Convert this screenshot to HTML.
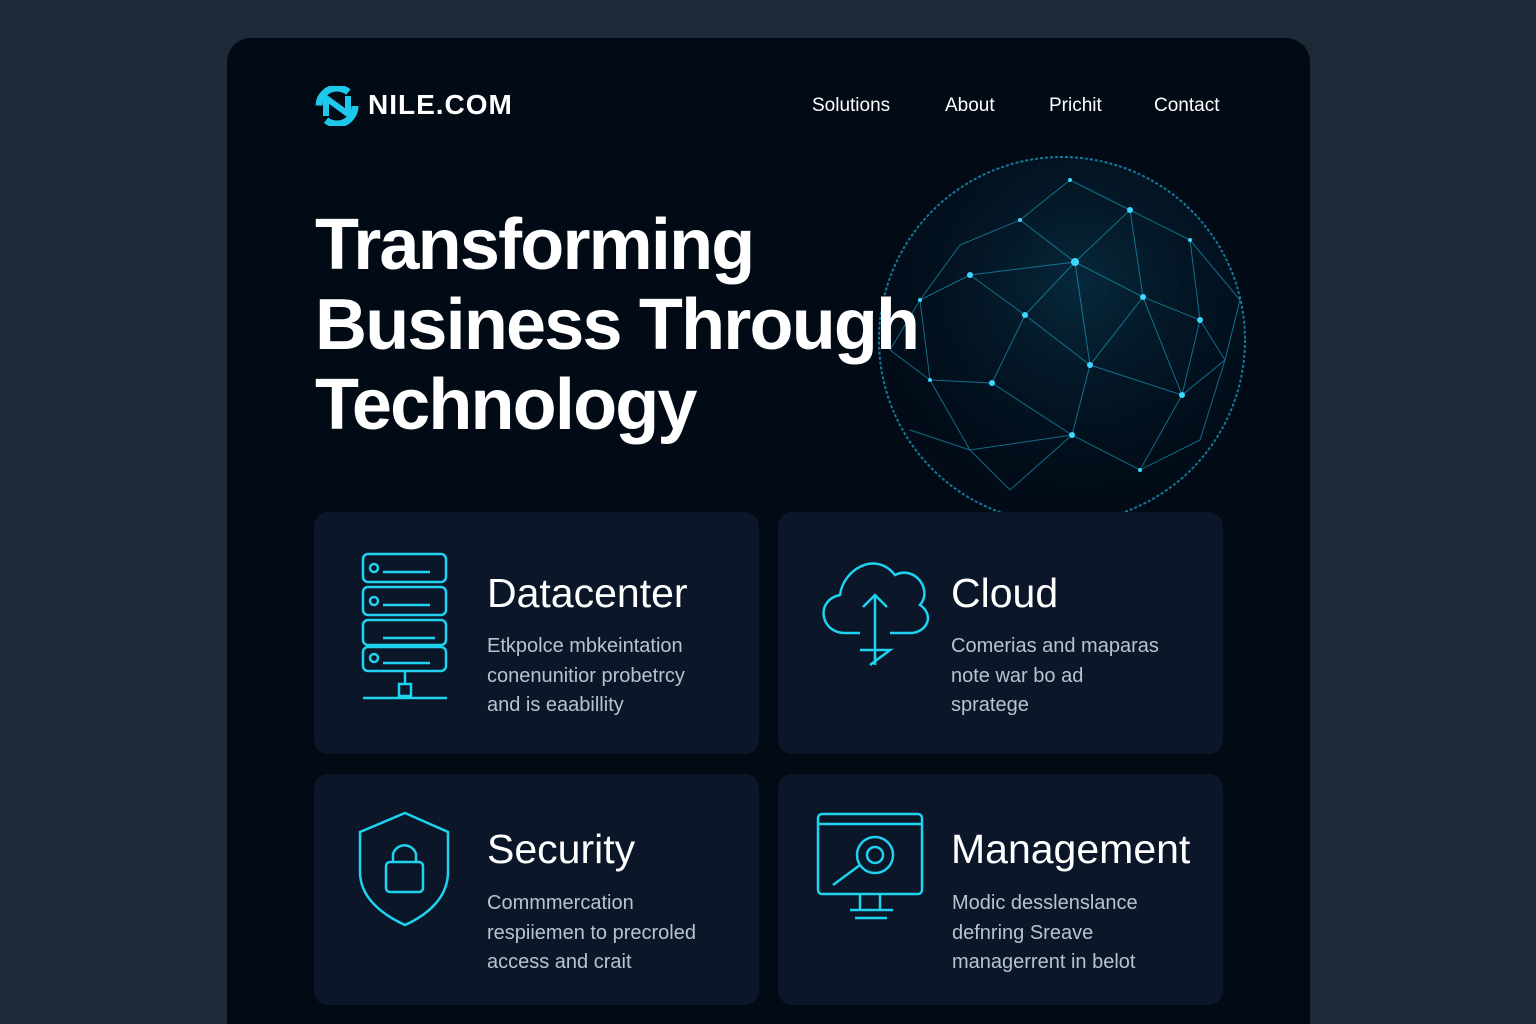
<!DOCTYPE html>
<html><head><meta charset="utf-8"><style>
html,body{margin:0;width:1536px;height:1024px;overflow:hidden}
body{background:#1e2a37;font-family:"Liberation Sans",sans-serif;position:relative}
.panel{position:absolute;left:227px;top:38px;width:1083px;height:1010px;background:#020a15;border-radius:24px;overflow:hidden}
.abs{position:absolute}
.logo{left:368px;top:89px;color:#fff;font-weight:bold;font-size:28px;letter-spacing:1px}
.nav{top:95px;color:#fff;font-size:19px}
h1{position:absolute;left:315px;top:205px;margin:0;color:#fff;font-size:72px;line-height:80px;font-weight:bold;letter-spacing:-1.8px}
.card{position:absolute;background:#0b1628;border-radius:14px}
.ct{position:absolute;color:#fff;font-size:41px}
.cd{position:absolute;color:#b9c3cf;font-size:20px;line-height:29.5px}
</style></head><body>
<div class="panel"></div>
<svg class="abs" style="left:314px;top:86px" width="46" height="40" viewBox="0 0 46 40"><circle cx="23" cy="20" r="18" fill="none" stroke="#1ec8ea" stroke-width="7" stroke-dasharray="40 17"/><path d="M12 30 L12 12 L34 28 L34 10" fill="none" stroke="#1ec8ea" stroke-width="6"/></svg>
<div class="abs logo">NILE.COM</div>
<div class="abs nav" style="left:812px">Solutions</div>
<div class="abs nav" style="left:945px">About</div>
<div class="abs nav" style="left:1049px">Prichit</div>
<div class="abs nav" style="left:1154px">Contact</div>
<svg class="abs" style="left:860px;top:150px" width="400" height="362" viewBox="0 0 400 362">
<defs><radialGradient id="g" cx="55%" cy="35%" r="60%"><stop offset="0" stop-color="#0c4660" stop-opacity=".75"/><stop offset="1" stop-color="#031526" stop-opacity=".2"/></radialGradient></defs>
<circle cx="202" cy="190" r="183" fill="url(#g)" stroke="#1aa9d0" stroke-width="2" stroke-dasharray="3 2" opacity=".7"/>
<g stroke="#22b8e0" stroke-width="1" opacity=".55" fill="none">
<path d="M215 112 L160 70 L100 95 L60 150 L110 125 L215 112 L283 147 L270 60 L215 112 L165 165 L110 125 L60 150 L70 230 L132 233 L165 165 L230 215 L283 147 L340 170 L322 245 L230 215 L212 285 L132 233 L70 230 L110 300 L212 285 L280 320 L322 245 L365 210 L340 170 L330 90 L270 60 M165 165 L132 233 M230 215 L322 245 M212 285 L150 340 L110 300 M280 320 L340 290 L365 210 M100 95 L60 150 M160 70 L210 30 L270 60 M330 90 L380 150 L365 210 M30 200 L60 150 M30 200 L70 230 M50 280 L110 300 M215 112 L230 215 M283 147 L322 245"/>
</g>
<g fill="#3fd6ff"><circle cx="215" cy="112" r="4"/><circle cx="283" cy="147" r="3"/><circle cx="165" cy="165" r="3"/><circle cx="230" cy="215" r="3"/><circle cx="132" cy="233" r="3"/><circle cx="322" cy="245" r="3"/><circle cx="212" cy="285" r="3"/><circle cx="110" cy="125" r="3"/><circle cx="340" cy="170" r="3"/><circle cx="270" cy="60" r="3"/><circle cx="60" cy="150" r="2"/><circle cx="70" cy="230" r="2"/><circle cx="280" cy="320" r="2"/><circle cx="160" cy="70" r="2"/><circle cx="330" cy="90" r="2"/><circle cx="210" cy="30" r="2"/></g>
</svg>
<h1>Transforming<br>Business Through<br>Technology</h1>
<div class="card" style="left:314px;top:512px;width:445px;height:242px"></div>
<div class="card" style="left:778px;top:512px;width:445px;height:242px"></div>
<div class="card" style="left:314px;top:774px;width:445px;height:231px"></div>
<div class="card" style="left:778px;top:774px;width:445px;height:231px"></div>
<svg class="abs" style="left:355px;top:550px" width="100" height="155" fill="none" stroke="#1ed2f0" stroke-width="2.5">
<rect x="8" y="4" width="83" height="28" rx="5"/><rect x="8" y="37" width="83" height="28" rx="5"/><rect x="8" y="70" width="83" height="25" rx="5"/><rect x="8" y="97" width="83" height="24" rx="5"/>
<circle cx="19" cy="18" r="4"/><circle cx="19" cy="51" r="4"/><circle cx="19" cy="108" r="4"/><path d="M28 22H75M28 55H75M28 88H80M28 113H75M50 121V135M8 148H92"/><rect x="44" y="134" width="12" height="12"/></svg>
<svg class="abs" style="left:815px;top:555px" width="120" height="115" fill="none" stroke="#1ed2f0" stroke-width="2.5">
<path d="M30 78 C5 78 0 45 25 40 C28 15 60 -5 80 20 C100 10 118 35 105 50 C120 60 112 78 95 78 H75 M45 78 H30"/><path d="M60 110 V40 M48 52 L60 40 L72 52 M45 95 H75 L55 110"/></svg>
<svg class="abs" style="left:355px;top:810px" width="100" height="120" fill="none" stroke="#1ed2f0" stroke-width="2.5">
<path d="M50 3 L93 22 V62 C93 88 72 105 50 115 C28 105 5 88 5 62 V22 Z"/><rect x="31" y="52" width="37" height="30" rx="4"/><path d="M38 52 V44 A12 12 0 0 1 61 44 V52"/></svg>
<svg class="abs" style="left:815px;top:810px" width="112" height="115" fill="none" stroke="#1ed2f0" stroke-width="2.5">
<rect x="3" y="4" width="104" height="80" rx="4"/><path d="M3 14H107M45 84V100M65 84V100M35 100H78M40 108H72"/><circle cx="60" cy="45" r="18"/><circle cx="60" cy="45" r="8"/><path d="M45 55 L18 75"/></svg>
<div class="ct" style="left:487px;top:570px">Datacenter</div>
<div class="cd" style="left:487px;top:632px">Etkpolce mbkeintation<br>conenunitior probetrcy<br>and is eaabillity</div>
<div class="ct" style="left:951px;top:570px">Cloud</div>
<div class="cd" style="left:951px;top:632px">Comerias and maparas<br>note war bo ad<br>spratege</div>
<div class="ct" style="left:487px;top:826px">Security</div>
<div class="cd" style="left:487px;top:889px">Commmercation<br>respiiemen to precroled<br>access and crait</div>
<div class="ct" style="left:951px;top:826px">Management</div>
<div class="cd" style="left:952px;top:889px">Modic desslenslance<br>defnring Sreave<br>managerrent in belot</div>
</body></html>
